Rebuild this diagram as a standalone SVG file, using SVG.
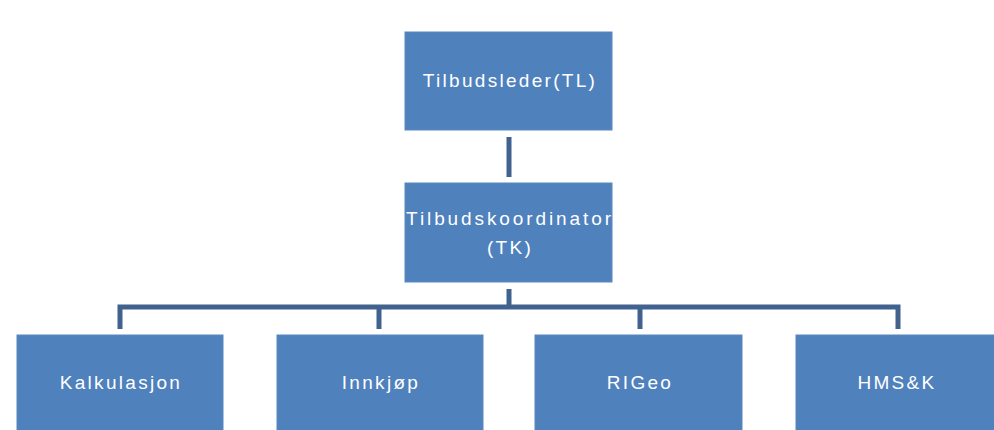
<svg xmlns="http://www.w3.org/2000/svg" width="994" height="430" viewBox="0 0 994 430">
  <style>
    .box { fill: #4f81bd; stroke: #5a88c0; stroke-width: 1; }
    .lbl { fill: #ffffff; font-family: "Liberation Sans", Arial, sans-serif; font-size: 19px; letter-spacing: 2.3px; text-anchor: middle; }
    .wire { fill: none; stroke: #41618e; stroke-width: 5; stroke-linecap: butt; stroke-linejoin: miter; }
  </style>
  <rect width="994" height="430" fill="#ffffff"/>

  <g id="connectors">
    <line class="wire" x1="509" y1="137" x2="509" y2="177"/>
    <line class="wire" x1="509" y1="289" x2="509" y2="307"/>
    <polyline class="wire" points="120,329 120,307 898,307 898,329"/>
    <line class="wire" x1="379" y1="307" x2="379" y2="329"/>
    <line class="wire" x1="640" y1="307" x2="640" y2="329"/>
  </g>

  <g id="tl">
    <rect class="box" x="405" y="32" width="207" height="98"/>
    <text class="lbl" x="510" y="87">Tilbudsleder(TL)</text>
  </g>

  <g id="tk">
    <rect class="box" x="405" y="183" width="207" height="99"/>
    <text class="lbl" x="510" y="225" style="letter-spacing:2.9px">Tilbudskoordinator</text>
    <text class="lbl" x="510" y="254">(TK)</text>
  </g>

  <g id="kalkulasjon">
    <rect class="box" x="17" y="335" width="206" height="98"/>
    <text class="lbl" x="121" y="389">Kalkulasjon</text>
  </g>

  <g id="innkjop">
    <rect class="box" x="277" y="335" width="206" height="98"/>
    <text class="lbl" x="381" y="389">Innkjøp</text>
  </g>

  <g id="rigeo">
    <rect class="box" x="535" y="335" width="207" height="98"/>
    <text class="lbl" x="640" y="389">RIGeo</text>
  </g>

  <g id="hmsk">
    <rect class="box" x="796" y="335" width="206" height="98"/>
    <text class="lbl" x="897" y="389">HMS&amp;K</text>
  </g>
</svg>
